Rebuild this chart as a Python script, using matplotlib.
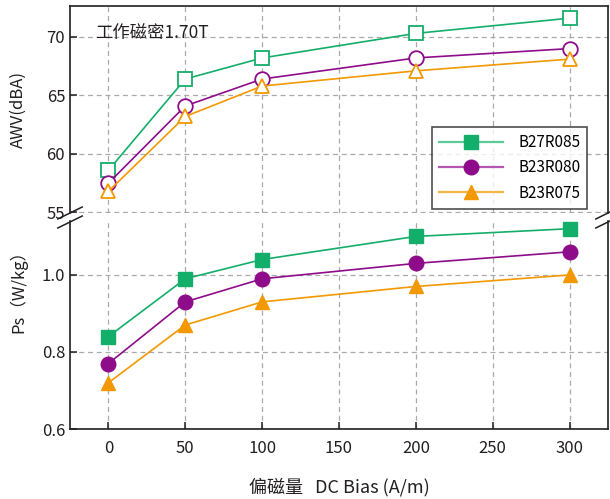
import matplotlib
matplotlib.use("Agg")
import matplotlib.pyplot as plt
from matplotlib.lines import Line2D

plt.rcParams['font.family'] = ['Noto Sans CJK SC', 'DejaVu Sans']

bias = [0, 50, 100, 200, 300]
names = ['B27R085', 'B23R080', 'B23R075']
colors = ['#14ae6b', '#8e0c8a', '#f39800']
light = ['#5ccb98', '#b557b2', '#f8b545']
marks = ['s', 'o', '^']

# AWV (dBA), hollow markers
awv = [
    [58.6, 66.4, 68.2, 70.3, 71.6],
    [57.5, 64.1, 66.4, 68.2, 69.0],
    [56.8, 63.2, 65.8, 67.1, 68.1],
]
# Ps (W/kg), filled markers
ps = [
    [0.84, 0.99, 1.04, 1.10, 1.12],
    [0.77, 0.93, 0.99, 1.03, 1.06],
    [0.72, 0.87, 0.93, 0.97, 1.00],
]

fig = plt.figure(figsize=(6.1, 4.99), dpi=100)
L, R = 70 / 610, 608 / 610
ax1 = fig.add_axes([L, 1 - 213 / 499, R - L, (213 - 6) / 499])
ax2 = fig.add_axes([L, 1 - 429 / 499, R - L, (429 - 221) / 499])

msz = [9.5, 10.5, 10.5]
for i in range(3):
    ax1.plot(bias, awv[i], color=colors[i], marker=marks[i], ms=msz[i],
             mfc='white', mec=colors[i], mew=1.3, lw=1.2, zorder=3)
    ax2.plot(bias, ps[i], color=colors[i], marker=marks[i], ms=msz[i],
             mfc=colors[i], mec=colors[i], lw=1.2, zorder=3)

for ax in (ax1, ax2):
    ax.set_xlim(-25, 325)
    ax.set_xticks([0, 50, 100, 150, 200, 250, 300])
    ax.grid(True, ls=(0, (4, 3)), color='#aaaaaa', lw=0.9)
    ax.set_axisbelow(True)
    for s in ax.spines.values():
        s.set_color('#231f20')
        s.set_linewidth(1.2)
    ax.tick_params(direction='in', length=5, labelsize=12, colors='#231f20', width=1.1)

ax1.set_ylim(54.95, 72.64)
ax1.set_yticks([55, 60, 65, 70])
ax1.spines['bottom'].set_visible(False)
ax1.tick_params(axis='x', bottom=False, labelbottom=False)

ax2.set_ylim(0.6, 1.14)
ax2.set_yticks([0.6, 0.8, 1.0])
ax2.set_yticklabels(['0.6', '0.8', '1.0'])
ax2.spines['top'].set_visible(False)
ax2.tick_params(axis='x', pad=8)

# break marks
for x0 in (L, R):
    for yp in (213, 222):
        y0 = 1 - yp / 499
        fig.add_artist(Line2D([x0 - 0.02, x0 + 0.02], [y0 - 0.012, y0 + 0.012],
                              color='#231f20', lw=1.1))

ax1.text(95 / 610, 1 - 33 / 499, '工作磁密1.70T', transform=fig.transFigure,
         fontsize=12.5, va='center', ha='left', color='#231f20')

fig.text(18 / 610, 1 - 110 / 499, 'AWV(dBA)', rotation=90, ha='center', va='center',
         fontsize=12, color='#231f20')
fig.text(18 / 610, 1 - 287 / 499, 'Ps（W/kg）', rotation=90, ha='center', va='center',
         fontsize=12, color='#231f20')
fig.text(339 / 610, 1 - 487 / 499, '偏磁量   DC Bias (A/m)', ha='center', va='center',
         fontsize=13, color='#231f20')

handles = [Line2D([], [], color=light[i], lw=1.6, marker=marks[i], ms=msz[i],
                  mfc=colors[i], mec=colors[i]) for i in range(3)]
leg = ax1.legend(handles, names, loc='upper left',
                 bbox_to_anchor=((432 - 70) / 538, (213 - 127) / 207),
                 borderaxespad=0, fontsize=11, frameon=True, fancybox=False,
                 edgecolor='#231f20', handlelength=4.2, labelspacing=0.55,
                 borderpad=0.45, handletextpad=1.0)
leg.get_frame().set_linewidth(1.2)

fig.savefig('out.png', dpi=100)
